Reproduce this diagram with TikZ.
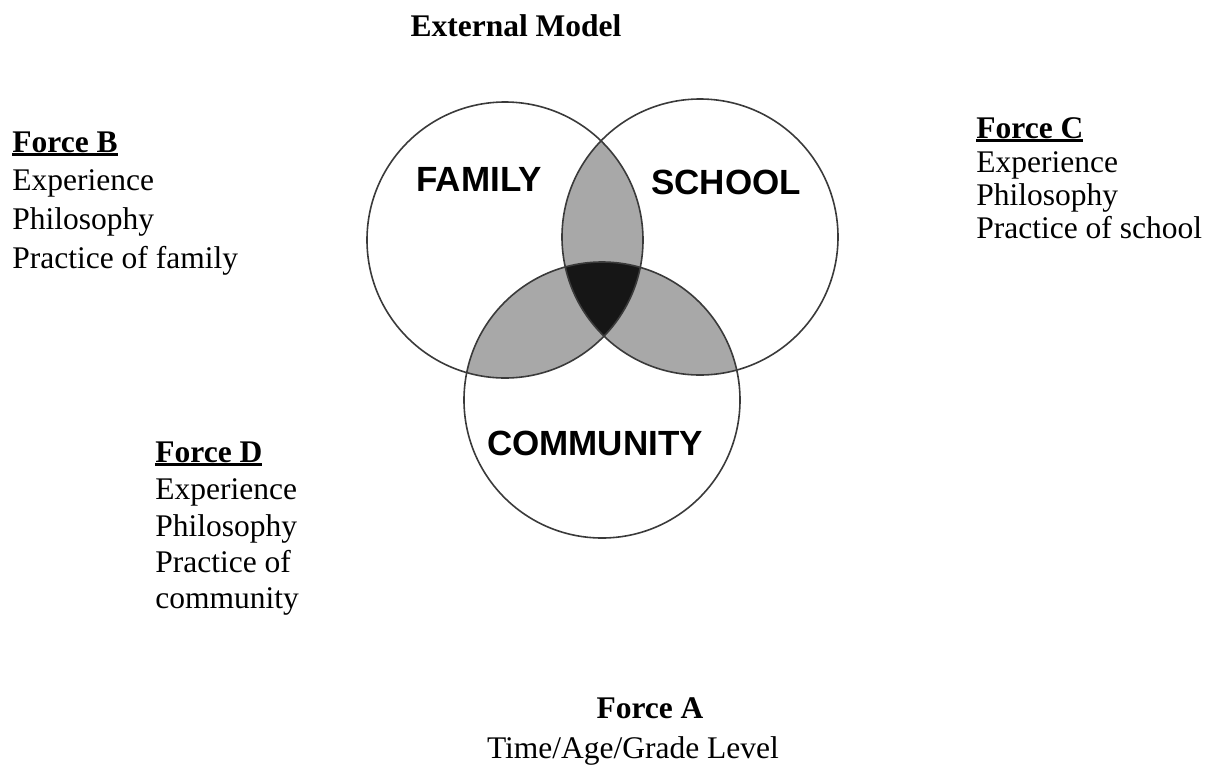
\documentclass[tikz,border=0pt]{standalone}
\usepackage{fontspec}
\setmainfont{Liberation Serif}
\newfontfamily\labelfont{Liberation Sans}
\definecolor{pairgray}{HTML}{A8A8A8}
\definecolor{coregray}{HTML}{161616}
\definecolor{ringcol}{HTML}{3A3A3A}
\newcommand\thickul[1]{\setbox0\hbox{#1}\rlap{\rule[-2.2pt]{\wd0}{1.6pt}}\box0}
\begin{document}
\begin{tikzpicture}[x=0.5pt,y=-0.5pt,
  ring/.style={circle,draw=ringcol,line width=0.8pt,minimum size=138pt,inner sep=0pt},
  setlabel/.style={font=\labelfont\bfseries\fontsize{17.5}{20}\selectfont,inner sep=0pt},
  txt/.style={font=\fontsize{15.75}{18}\selectfont,inner sep=0pt,anchor=base west},
  head/.style={txt,font=\fontsize{15.75}{18}\selectfont\bfseries}]
\useasboundingbox (0,0) rectangle (1211,767);
\coordinate (cf) at (505,240);
\coordinate (cs) at (700,237);
\coordinate (cc) at (602,400);
% pairwise overlaps
\begin{scope}
  \clip (cf) circle[radius=69pt];
  \fill[pairgray] (cs) circle[radius=69pt];
  \fill[pairgray] (cc) circle[radius=69pt];
\end{scope}
\begin{scope}
  \clip (cs) circle[radius=69pt];
  \fill[pairgray] (cc) circle[radius=69pt];
\end{scope}
% triple overlap
\begin{scope}
  \clip (cf) circle[radius=69pt];
  \clip (cs) circle[radius=69pt];
  \fill[coregray] (cc) circle[radius=69pt];
\end{scope}
% outlines
\node[ring] (family) at (cf) {};
\node[ring] (school) at (cs) {};
\node[ring] (community) at (cc) {};
% set labels
\node[setlabel] (lfamily) at (479,179) {FAMILY};
\node[setlabel] (lschool) at (726,182) {SCHOOL};
\node[setlabel] (lcommunity) at (595,443) {COMMUNITY};
% title
\node[head,anchor=base] (title) at (516,36) {External Model};
% Force B
\node[head] (fb) at (12,152) {\thickul{Force B}};
\node[txt] (fb1) at (12,190) {Experience};
\node[txt] (fb2) at (12,229) {Philosophy};
\node[txt] (fb3) at (12,268) {Practice of family};
% Force C
\node[head] (fc) at (976,138) {\thickul{Force C}};
\node[txt] (fc1) at (976,172) {Experience};
\node[txt] (fc2) at (976,205) {Philosophy};
\node[txt] (fc3) at (976,238) {Practice of school};
% Force D
\node[head] (fd) at (155,462) {\thickul{Force D}};
\node[txt] (fd1) at (155,499) {Experience};
\node[txt] (fd2) at (155,536) {Philosophy};
\node[txt] (fd3) at (155,572) {Practice of};
\node[txt] (fd4) at (155,608) {community};
% Force A
\node[head,anchor=base] (fa) at (650,718) {Force A};
\node[txt,anchor=base] (fa1) at (633,758) {Time/Age/Grade Level};
\end{tikzpicture}
\end{document}
